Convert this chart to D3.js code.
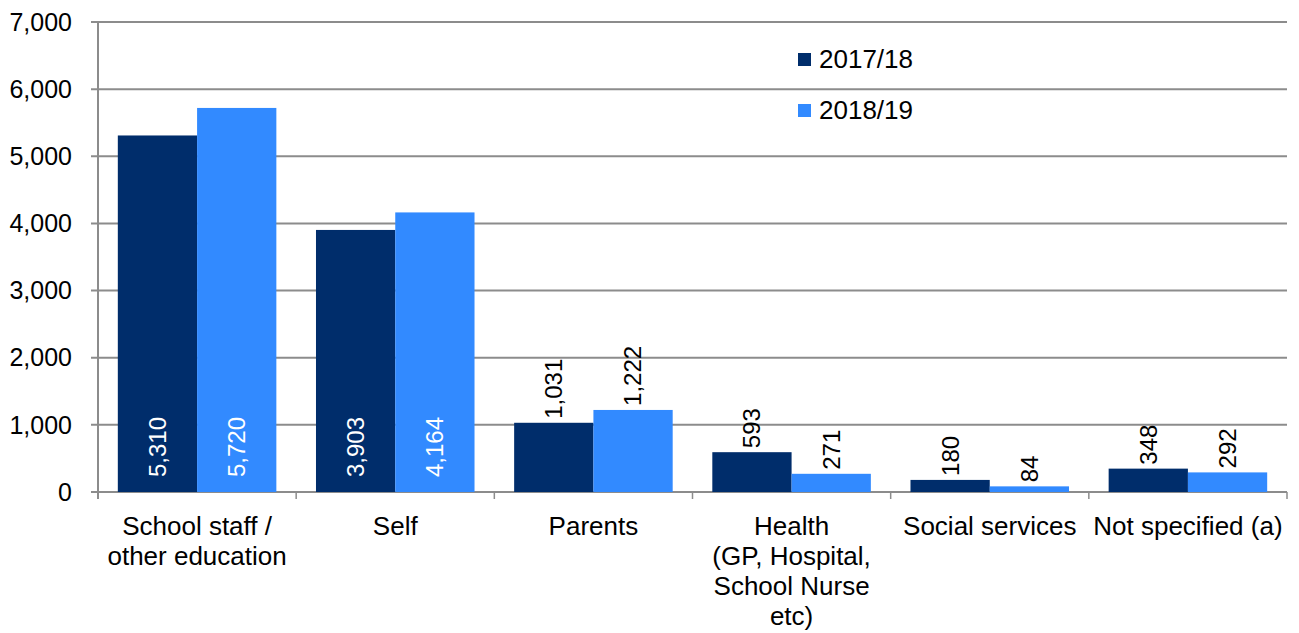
<!DOCTYPE html>
<html>
<head>
<meta charset="utf-8">
<script src="https://cdn.jsdelivr.net/npm/d3@7"></script>
<style>
  body { margin: 0; background: #fff; }
  text { font-family: "Liberation Sans", Arial, sans-serif; }
</style>
</head>
<body>
<div id="chart"></div>
<script>
// data ---------------------------------------------------------------
var categories = [
  ["School staff /", "other education"],
  ["Self"],
  ["Parents"],
  ["Health", "(GP, Hospital,", "School Nurse", "etc)"],
  ["Social services"],
  ["Not specified (a)"]
];
var seriesNames = ["2017/18", "2018/19"];
var values1718 = [5310, 3903, 1031, 593, 180, 348];
var values1819 = [5720, 4164, 1222, 271, 84, 292];
var yTicks = [0, 1000, 2000, 3000, 4000, 5000, 6000, 7000];

var colours = ["#002d6b", "#328aff"];

var width = 1299, height = 633;
var margin = {top: 22, right: 12, bottom: 141, left: 98};
var w = width - margin.left - margin.right,
    h = height - margin.top - margin.bottom;

var svg = d3.select("#chart").append("svg")
    .attr("width", width)
    .attr("height", height)
  .append("g")
    .attr("transform", "translate(" + margin.left + "," + margin.top + ")");

var x0 = d3.scaleBand()
    .domain(d3.range(categories.length))
    .range([0, w])
    .paddingInner(0)
    .paddingOuter(0);

var x1 = d3.scaleBand()
    .domain([0, 1])
    .range([x0.bandwidth() * 0.1, x0.bandwidth() * 0.9]);

var y = d3.scaleLinear()
    .domain([0, 7000])
    .range([h, 0]);

// gridlines
svg.append("g")
  .selectAll("line")
  .data(yTicks)
  .enter().append("line")
    .attr("x1", -7)
    .attr("x2", w)
    .attr("y1", function(d) { return y(d); })
    .attr("y2", function(d) { return y(d); })
    .attr("stroke", "#8c8c8c")
    .attr("stroke-width", 2);

// y labels
svg.append("g")
  .selectAll("text")
  .data(yTicks)
  .enter().append("text")
    .attr("x", -26)
    .attr("y", function(d) { return y(d); })
    .attr("dy", "0.35em")
    .attr("text-anchor", "end")
    .attr("font-size", 25)
    .attr("fill", "#000")
    .text(d3.format(","));

// bars
var data = categories.map(function(c, i) {
  return {i: i, vals: [values1718[i], values1819[i]]};
});

var groups = svg.selectAll(".cat")
  .data(data)
  .enter().append("g")
    .attr("class", "cat")
    .attr("transform", function(d) { return "translate(" + x0(d.i) + ",0)"; });

groups.selectAll("rect")
  .data(function(d) { return d.vals.map(function(v, s) { return {s: s, v: v}; }); })
  .enter().append("rect")
    .attr("x", function(d) { return x1(d.s); })
    .attr("width", x1.bandwidth())
    .attr("y", function(d) { return y(d.v); })
    .attr("height", function(d) { return h - y(d.v); })
    .attr("fill", function(d) { return colours[d.s]; });

// value labels: inside for tall bars, above for the rest
groups.selectAll(".val")
  .data(function(d) { return d.vals.map(function(v, s) { return {s: s, v: v}; }); })
  .enter().append("text")
    .attr("class", "val")
    .attr("font-size", 24)
    .attr("fill", function(d) { return d.v > 2000 ? "#fff" : "#000"; })
    .attr("text-anchor", "start")
    .attr("dy", "0.35em")
    .attr("transform", function(d) {
      var cx = x1(d.s) + x1.bandwidth() / 2;
      var cy = d.v > 2000 ? h - 15 : y(d.v) - 4;
      return "translate(" + cx + "," + cy + ") rotate(-90)";
    })
    .text(function(d) { return d3.format(",")(d.v); });

// axes lines
svg.append("line")
    .attr("x1", 0).attr("x2", 0)
    .attr("y1", 0).attr("y2", h + 7)
    .attr("stroke", "#8c8c8c")
    .attr("stroke-width", 2);

svg.append("g")
  .selectAll("line")
  .data(d3.range(categories.length + 1))
  .enter().append("line")
    .attr("x1", function(d) { return d * x0.step(); })
    .attr("x2", function(d) { return d * x0.step(); })
    .attr("y1", h)
    .attr("y2", h + 7)
    .attr("stroke", "#8c8c8c")
    .attr("stroke-width", 1.5);

// category labels
var catLabels = svg.append("g")
  .selectAll("text")
  .data(categories)
  .enter().append("text")
    .attr("text-anchor", "middle")
    .attr("font-size", 26)
    .attr("fill", "#000")
    .attr("transform", function(d, i) {
      return "translate(" + (x0(i) + x0.bandwidth() / 2) + "," + (h + 43) + ")";
    });

catLabels.selectAll("tspan")
  .data(function(d) { return d; })
  .enter().append("tspan")
    .attr("x", 0)
    .attr("y", function(d, j) { return j * 30; })
    .text(function(d) { return d; });

// legend
var legend = svg.append("g")
  .selectAll("g")
  .data(seriesNames)
  .enter().append("g")
    .attr("transform", function(d, i) { return "translate(700," + (31 + i * 51) + ")"; });

legend.append("rect")
    .attr("width", 13)
    .attr("height", 13)
    .attr("fill", function(d, i) { return colours[i]; });

legend.append("text")
    .attr("x", 21)
    .attr("y", 6)
    .attr("dy", "0.35em")
    .attr("font-size", 26)
    .attr("fill", "#000")
    .text(function(d) { return d; });
</script>
</body>
</html>
